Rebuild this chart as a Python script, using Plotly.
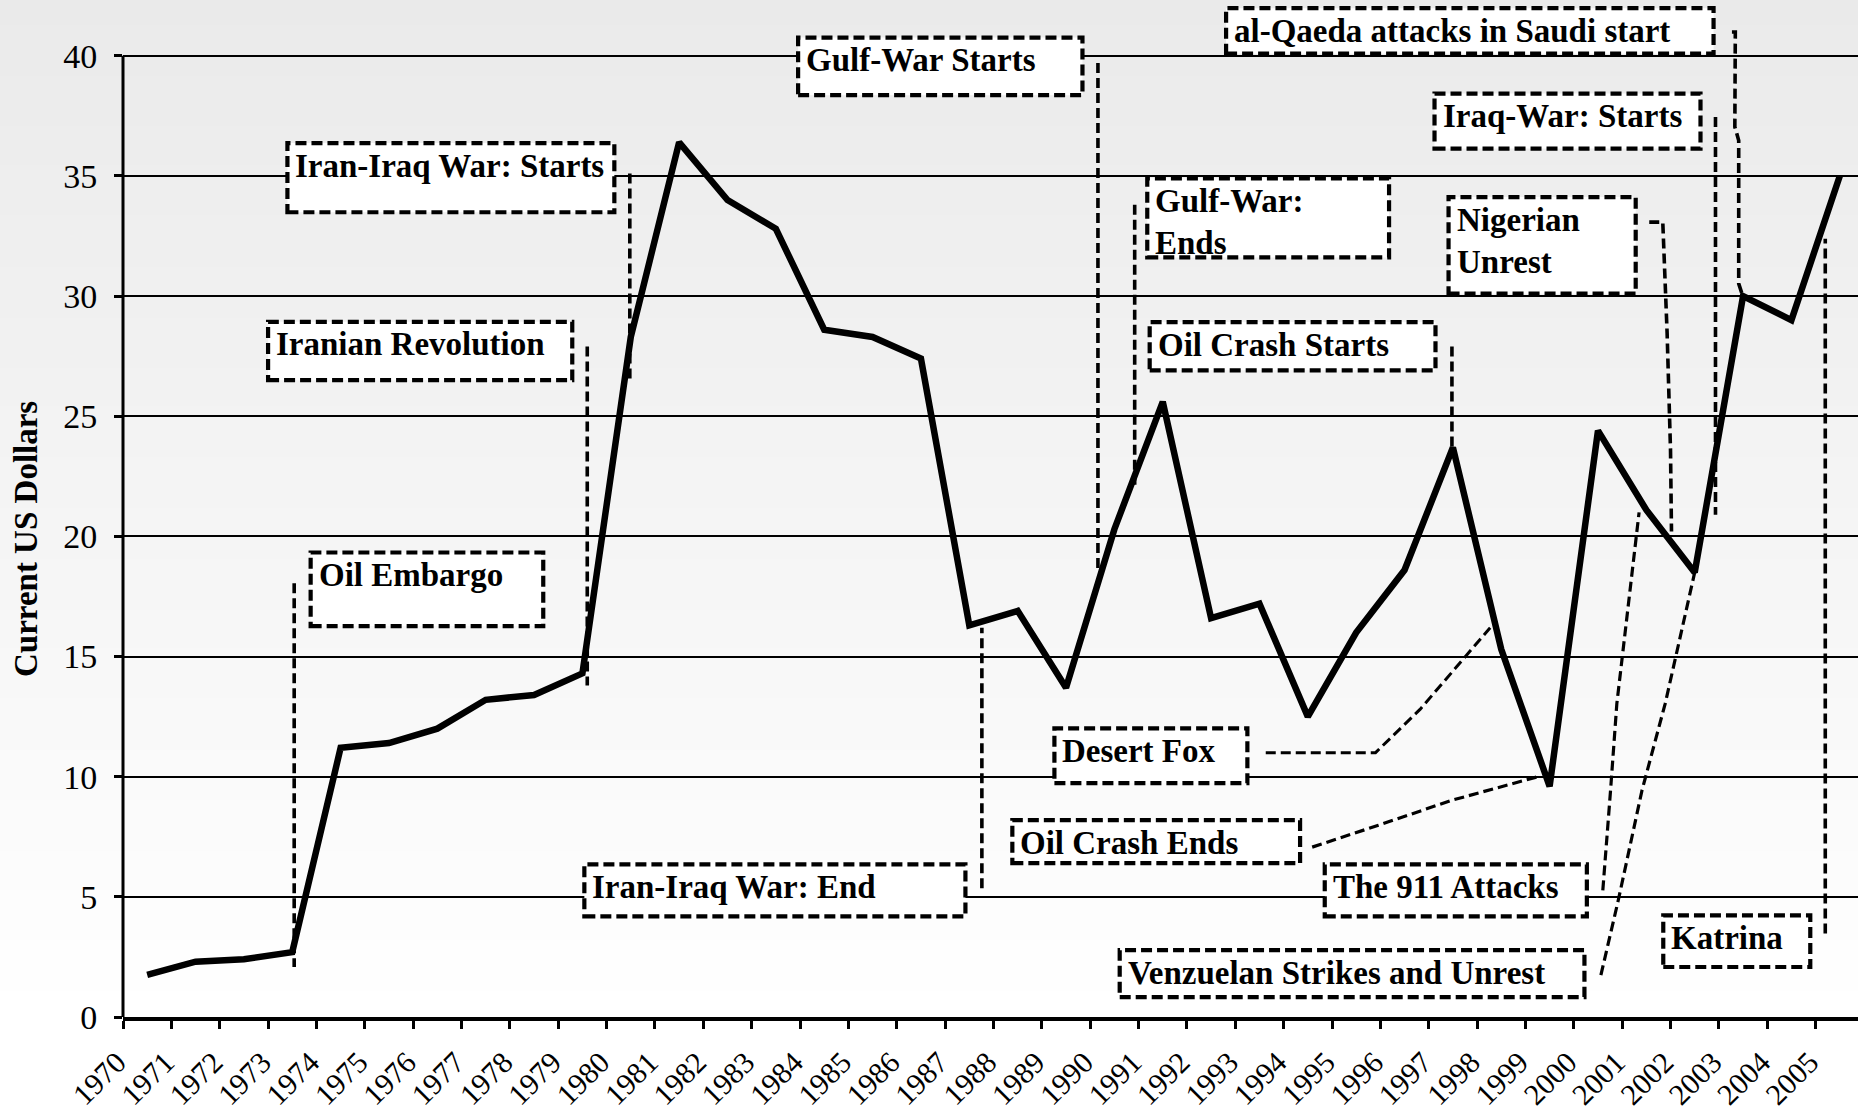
import plotly.graph_objects as go

# ---- data -------------------------------------------------------------
YEARS = list(range(1970, 2006))
PRICE = [1.75, 2.3, 2.4, 2.7, 11.2, 11.4, 12.0, 13.2, 13.4, 14.3,
         28.3, 36.4, 34.0, 32.8, 28.6, 28.3, 27.4, 16.3, 16.9, 13.7,
         20.3, 25.6, 16.6, 17.2, 12.5, 16.0, 18.6, 23.7, 15.3, 9.6,
         24.4, 21.1, 18.5, 30.0, 29.0, 35.0]
Y_TICKS = [0, 5, 10, 15, 20, 25, 30, 35, 40]
Y_TITLE = "Current US Dollars"

EVENT_TEXT = [
    ["Oil Embargo"],
    ["Iranian Revolution"],
    ["Iran-Iraq War: Starts"],
    ["Iran-Iraq War: End"],
    ["Gulf-War Starts"],
    ["Gulf-War:", "Ends"],
    ["Oil Crash Starts"],
    ["Desert Fox"],
    ["Oil Crash Ends"],
    ["The 911 Attacks"],
    ["Venzuelan Strikes and Unrest"],
    ["Katrina"],
    ["Nigerian", "Unrest"],
    ["Iraq-War: Starts"],
    ["al-Qaeda attacks in Saudi start"],
]

# ---- callout layout: box (x0, x1, top, bottom) and leader path, in axis units
BOXES = [
    (1973.38, 1978.19, 19.33, 16.27),
    (1972.50, 1978.79, 28.93, 26.50),
    (1972.90, 1979.66, 36.37, 33.49),
    (1979.04, 1986.92, 6.35, 4.19),
    (1983.46, 1989.34, 40.76, 38.36),
    (1990.68, 1995.68, 34.90, 31.61),
    (1990.73, 1996.64, 28.92, 26.91),
    (1988.76, 1992.75, 12.01, 9.73),
    (1987.89, 1993.84, 8.19, 6.40),
    (1994.35, 1999.77, 6.35, 4.19),
    (1990.11, 1999.72, 2.78, 0.83),
    (2001.35, 2004.39, 4.23, 2.08),
    (1996.91, 2000.78, 34.12, 30.10),
    (1996.62, 2002.12, 38.43, 36.14),
    (1992.31, 2002.39, 41.98, 40.09),
]
LEADERS = [
    [(1973.04, 18.05), (1973.04, 2.08)],
    [(1979.10, 27.9), (1979.10, 13.8)],
    [(1979.98, 35.1), (1979.98, 26.5)],
    [(1987.26, 5.36), (1987.26, 16.2)],
    [(1989.66, 39.7), (1989.66, 18.6)],
    [(1990.42, 33.8), (1990.42, 22.1)],
    [(1996.98, 27.9), (1996.98, 23.6)],
    [(1993.13, 11.0), (1995.40, 11.0), (1996.32, 12.8), (1997.77, 16.2)],
    [(1994.09, 7.07), (1995.46, 7.98), (1996.98, 9.02), (1998.74, 9.99)],
    [(2000.10, 5.27), (2000.26, 9.43), (2000.39, 13.04), (2000.85, 21.0)],
    [(2000.06, 1.74), (2000.42, 4.86), (2000.91, 9.43), (2001.39, 13.04), (2002.0, 18.5)],
    [(2004.70, 3.48), (2004.70, 32.39)],
    [(2001.06, 33.08), (2001.34, 33.08), (2001.43, 28.45), (2001.50, 23.58), (2001.52, 20.2)],
    [(2002.43, 37.45), (2002.43, 20.9)],
    [(2002.77, 40.99), (2002.84, 40.99), (2002.83, 37.04), (2002.91, 36.48), (2002.91, 30.52), (2003.0, 29.96)],
]
LEADER_WIDTH = [3.6, 3.6, 3.6, 3.6, 3.6, 3.6, 3.6, 3, 3.2, 3.2, 3.2, 3.6, 3.6, 3.6, 3.6]

# ---- geometry ---------------------------------------------------------
W, H = 1858, 1113
M_L, M_B = 123, 96
PLOT_W, PLOT_H = W - M_L, H - M_B
PX_PER_YEAR = 48.36
PX_PER_DOLLAR = 24.03
X_RANGE = [YEARS[0] - 0.5, YEARS[0] - 0.5 + PLOT_W / PX_PER_YEAR]
Y_RANGE = [0, PLOT_H / PX_PER_DOLLAR]

SERIF = "Liberation Serif, Times New Roman, serif"

fig = go.Figure()

fig.add_trace(go.Scatter(
    x=YEARS, y=PRICE, mode="lines",
    line=dict(color="black", width=6.5),
    hoverinfo="skip", showlegend=False,
))

shapes = []

# soft vertical grey gradient behind everything
N_BANDS = 80
for i in range(N_BANDS):
    t0 = i / N_BANDS
    t1 = (i + 1) / N_BANDS
    g = 234 + 21 * (t0 + t1) / 2
    shapes.append(dict(
        type="rect", xref="paper", yref="paper",
        x0=-M_L / PLOT_W - 0.01, x1=1.01,
        y0=1 - t1 - 0.0005, y1=1 - t0 + (0.01 if i == 0 else 0.0005),
        fillcolor=f"rgb({g:.2f},{g:.2f},{g:.2f})",
        line=dict(width=0), layer="below",
    ))

# y axis spine, only up to the top tick
shapes.append(dict(
    type="line", xref="paper", yref="y",
    x0=0, x1=0, y0=0, y1=Y_TICKS[-1],
    line=dict(color="black", width=3), layer="above",
))

# leader lines
for pts, lw in zip(LEADERS, LEADER_WIDTH):
    path = "M " + " L ".join(f"{x},{y}" for x, y in pts)
    shapes.append(dict(
        type="path", xref="x", yref="y", path=path,
        line=dict(color="black", width=lw, dash="10px,5px"),
        layer="above",
    ))

# dashed white callout boxes
for x0, x1, top, bottom in BOXES:
    shapes.append(dict(
        type="rect", xref="x", yref="y",
        x0=x0, x1=x1, y0=bottom, y1=top,
        fillcolor="white",
        line=dict(color="black", width=4.2, dash="11px,5px"),
        layer="above",
    ))

annotations = []
for lines, (x0, x1, top, bottom) in zip(EVENT_TEXT, BOXES):
    for k, line in enumerate(lines):
        annotations.append(dict(
            x=x0, y=top, xref="x", yref="y",
            text=f"<b>{line}</b>", showarrow=False,
            xanchor="left", yanchor="middle",
            xshift=7, yshift=-22.5 - 42 * k,
            borderpad=0,
            font=dict(family=SERIF, size=33, color="black"),
        ))

annotations.append(dict(
    x=(26 - M_L) / PLOT_W, y=1 - 539 / PLOT_H, xref="paper", yref="paper",
    text=f"<b>{Y_TITLE}</b>", showarrow=False, textangle=-90,
    xanchor="center", yanchor="middle",
    font=dict(family=SERIF, size=33, color="black"),
))

fig.update_layout(
    width=W, height=H,
    margin=dict(l=M_L, r=0, t=0, b=M_B, pad=0, autoexpand=False),
    paper_bgcolor="white",
    plot_bgcolor="rgba(0,0,0,0)",
    showlegend=False,
    shapes=shapes,
    annotations=annotations,
    xaxis=dict(
        range=X_RANGE, showgrid=False, zeroline=False, automargin=False,
        tickmode="array", tickvals=YEARS, ticktext=[str(y) for y in YEARS],
        tickangle=-45, ticks="",
        ticklabelstandoff=12, ticklabelshift=-30,
        tickfont=dict(family=SERIF, size=30, color="black"),
        showline=True, linecolor="black", linewidth=3.5,
        minor=dict(tickmode="linear", tick0=YEARS[0] - 0.5, dtick=1,
                   ticks="outside", ticklen=8, tickwidth=3,
                   tickcolor="black", showgrid=False),
        fixedrange=True,
    ),
    yaxis=dict(
        range=Y_RANGE, tickmode="array", tickvals=Y_TICKS, automargin=False,
        showgrid=True, gridcolor="black", gridwidth=2.2,
        zeroline=False, showline=False,
        ticks="outside", ticklen=8, tickwidth=3, tickcolor="black",
        ticklabelstandoff=10,
        tickfont=dict(family=SERIF, size=34, color="black"),
        fixedrange=True,
    ),
)

fig.write_html("out.html")
